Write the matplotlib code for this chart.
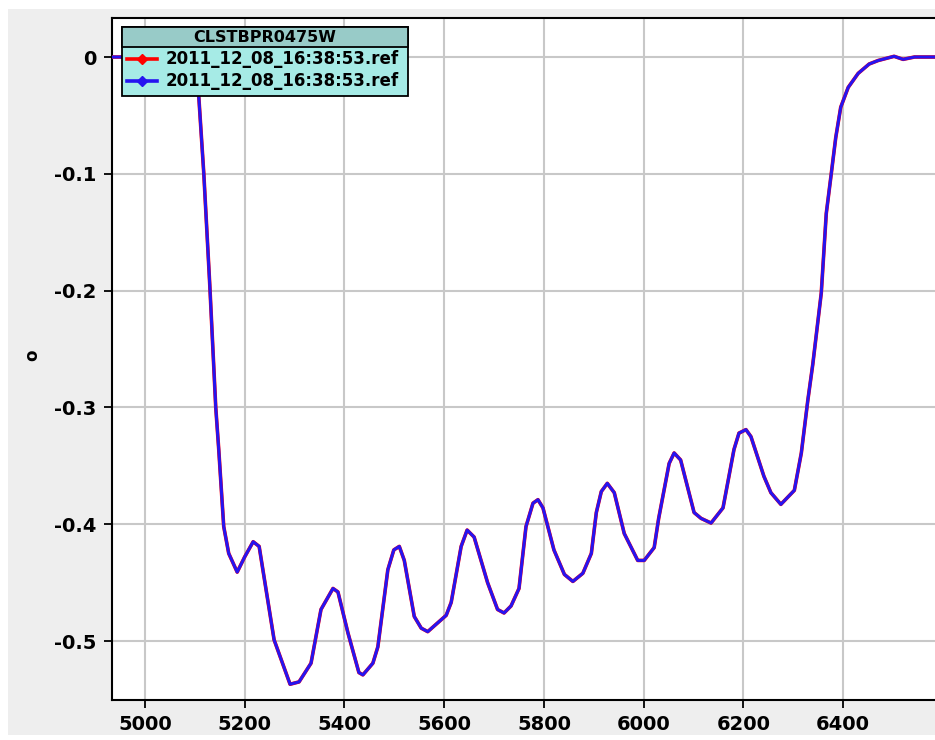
import matplotlib
matplotlib.use("Agg")
import matplotlib.pyplot as plt
from matplotlib.patches import Rectangle
from matplotlib.lines import Line2D

# Spectrum: wavelength vs. value
wavelength = [4934, 5000, 5050, 5090, 5102, 5108, 5118, 5130, 5142, 5148, 5158, 5168,
              5185, 5200, 5217, 5229, 5259, 5291, 5309, 5333, 5353, 5377, 5387, 5407,
              5429, 5437, 5457, 5467, 5487, 5499, 5510, 5520, 5540, 5554, 5567, 5604,
              5614, 5634, 5646, 5660, 5687, 5707, 5720, 5734, 5750, 5764, 5778, 5788,
              5798, 5820, 5841, 5858, 5878, 5895, 5905, 5915, 5927, 5941, 5961, 5988,
              6001, 6021, 6030, 6051, 6061, 6074, 6101, 6115, 6135, 6159, 6181, 6191,
              6205, 6215, 6241, 6255, 6275, 6302, 6316, 6329, 6339, 6356, 6366, 6376,
              6385, 6395, 6410, 6430, 6452, 6470, 6502, 6520, 6543, 6600]
values = [0.0, 0.0, 0.0, 0.0, -0.002, -0.034, -0.0995, -0.195, -0.300, -0.336, -0.402, -0.425,
          -0.441, -0.428, -0.415, -0.419, -0.499, -0.537, -0.535, -0.519, -0.473, -0.455, -0.458, -0.493,
          -0.527, -0.529, -0.519, -0.505, -0.439, -0.422, -0.419, -0.431, -0.479, -0.489, -0.492, -0.478,
          -0.467, -0.419, -0.405, -0.411, -0.450, -0.473, -0.476, -0.470, -0.455, -0.402, -0.382, -0.379,
          -0.386, -0.422, -0.443, -0.449, -0.442, -0.425, -0.390, -0.372, -0.365, -0.373, -0.408, -0.431,
          -0.431, -0.420, -0.395, -0.348, -0.339, -0.345, -0.390, -0.395, -0.399, -0.386, -0.336, -0.322,
          -0.319, -0.325, -0.359, -0.373, -0.383, -0.371, -0.339, -0.294, -0.263, -0.202, -0.134, -0.100,
          -0.069, -0.043, -0.026, -0.014, -0.006, -0.003, 0.0006, -0.002, 0.0, 0.0]

x_ticks = [5000, 5200, 5400, 5600, 5800, 6000, 6200, 6400]
y_ticks = [0.0, -0.1, -0.2, -0.3, -0.4, -0.5]
y_tick_labels = ["0", "-0.1", "-0.2", "-0.3", "-0.4", "-0.5"]

legend_title = "CLSTBPR0475W"
series_names = ["2011_12_08_16:38:53.ref", "2011_12_08_16:38:53.ref"]
series_colors = ["#ff0000", "#2614f0"]

W, H = 935, 740
fig = plt.figure(figsize=(W / 100, H / 100), dpi=100, facecolor="white")


def fx(px):
    return px / W


def fy(py):
    return 1 - py / H


# grey panel behind the plot
fig.patches.append(Rectangle((fx(8), fy(735)), fx(935) - fx(8), fy(9) - fy(735),
                             transform=fig.transFigure, facecolor="#eeeeee",
                             edgecolor="none", zorder=-5))

ax = fig.add_axes([fx(112), fy(700), 1 - fx(112), fy(18) - fy(700)])
ax.set_zorder(1)
ax.set_facecolor("white")
ax.set_xlim(4934, 6584)
ax.set_ylim(-0.5505, 0.0334)

ax.plot(wavelength, values, color=series_colors[0], lw=2.6, zorder=3, solid_joinstyle="round")
ax.plot(wavelength, values, color=series_colors[1], lw=2.2, zorder=4, solid_joinstyle="round")

ax.set_xticks(x_ticks)
ax.set_yticks(y_ticks)
ax.set_yticklabels(y_tick_labels)
ax.grid(True, color="#c8c8c8", lw=1.5, zorder=1)
ax.set_axisbelow(True)
for lab in ax.get_xticklabels() + ax.get_yticklabels():
    lab.set_fontweight("bold")
    lab.set_fontsize(14)
ax.tick_params(axis="both", direction="out", length=6, width=1.3, color="black", pad=5)
for side in ["left", "top", "bottom"]:
    ax.spines[side].set_color("black")
    ax.spines[side].set_linewidth(1.5)
ax.spines["right"].set_visible(False)

fig.text(fx(32), fy(355), "o", rotation=90, fontsize=12, fontweight="bold",
         ha="center", va="center")

# legend box
lx0, lx1, ly0, ly1, ly_title = 122, 408, 27, 96, 47
fig.patches.append(Rectangle((fx(lx0), fy(ly1)), fx(lx1) - fx(lx0), fy(ly0) - fy(ly1),
                             transform=fig.transFigure, facecolor="#a6ebe6",
                             edgecolor="black", lw=1.3, zorder=10))
fig.patches.append(Rectangle((fx(lx0), fy(ly_title)), fx(lx1) - fx(lx0), fy(ly0) - fy(ly_title),
                             transform=fig.transFigure, facecolor="#98cbc8",
                             edgecolor="black", lw=1.3, zorder=11))
fig.text(fx((lx0 + lx1) / 2), fy(37.5), legend_title, fontsize=11.5, fontweight="bold",
         ha="center", va="center", zorder=12)
for i, (name, col) in enumerate(zip(series_names, series_colors)):
    yy = fy(59 + 22 * i)
    fig.lines.append(Line2D([fx(127), fx(157)], [yy, yy], transform=fig.transFigure,
                            color=col, lw=2.6, zorder=12))
    fig.lines.append(Line2D([fx(142)], [yy], transform=fig.transFigure, color=col,
                            marker="D", markersize=5, lw=0, zorder=13))
    fig.text(fx(166), yy, name, fontsize=12, fontweight="bold", ha="left",
             va="center", zorder=12)

fig.savefig("out.png", dpi=100, facecolor="white")
